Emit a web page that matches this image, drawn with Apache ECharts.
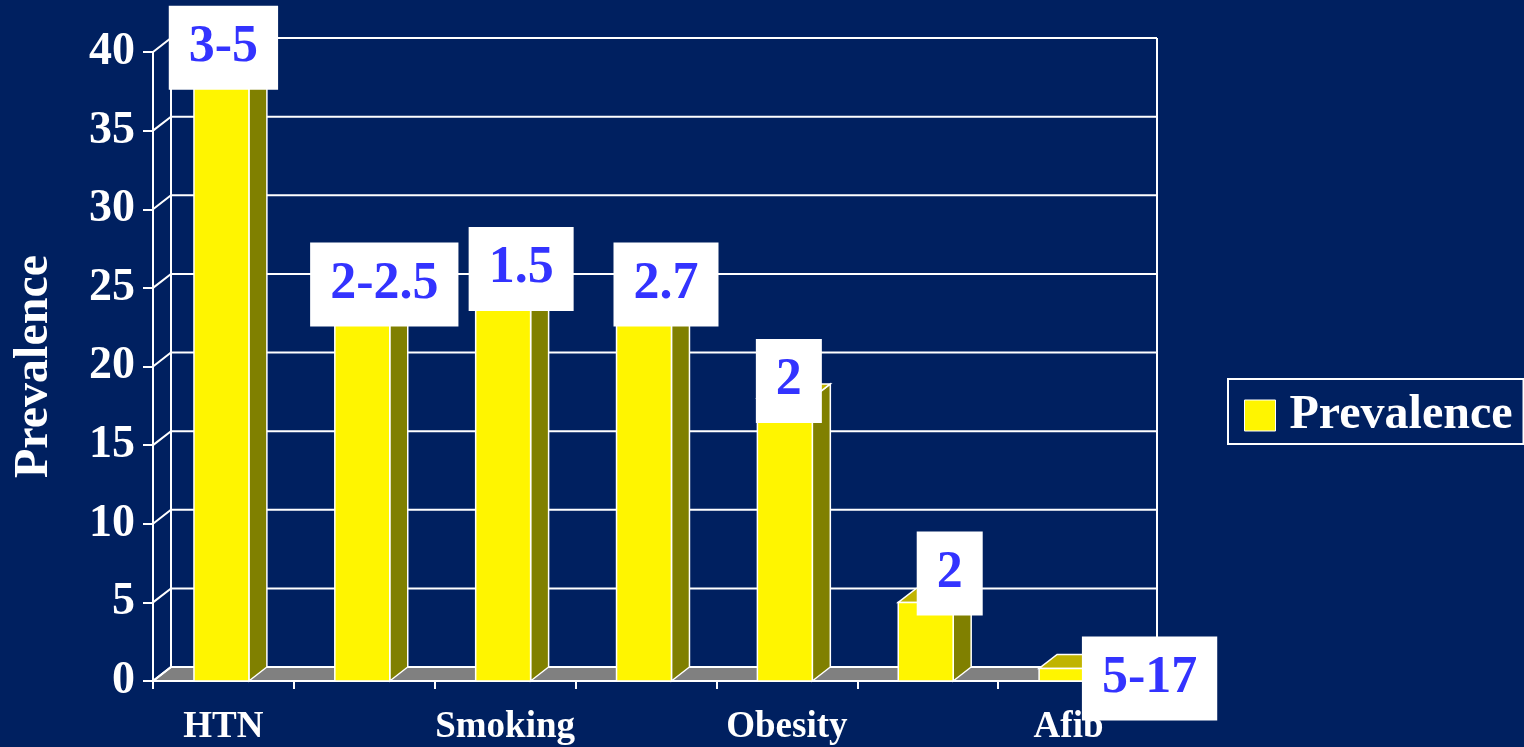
<!DOCTYPE html>
<html>
<head>
<meta charset="utf-8">
<script src="https://cdn.jsdelivr.net/npm/echarts@6/dist/echarts.min.js"></script>
<style>
  html, body { margin: 0; padding: 0; background: #002060; }
  #chart { width: 1524px; height: 747px; }
</style>
</head>
<body>
<div id="chart"></div>
<script>
// Stroke risk factors: prevalence (%) with relative risk shown in the call-out boxes
const categories = ['HTN', '', 'Smoking', '', 'Obesity', '', 'Afib'];
const prevalence = [39, 24, 25, 24, 18, 5, 0.8];
const relativeRisk = ['3-5', '2-2.5', '1.5', '2.7', '2', '2', '5-17'];
const yTicks = [0, 5, 10, 15, 20, 25, 30, 35, 40];

// Pseudo-3D depth of the bars, floor and back wall (px)
const DX = 18, DY = -14;
// Call-out box offsets from the top front edge of each bar (px)
const labelNudge = [[2, -20], [22, -19], [18, -19], [22, -19], [4, -17], [24, -29], [83, 10]];

const SERIF = '"Liberation Serif", "Times New Roman", serif';
const BG = '#002060';
const BAR_FRONT = '#fff500';
const BAR_SIDE = '#808000';
const BAR_TOP = '#c0b400';
const FLOOR = '#808080';
const LINE = '#ffffff';

const chart = echarts.init(document.getElementById('chart'));

function renderWall(params, api) {
  const v = api.value(1);
  const cs = params.coordSys;
  const left = cs.x, right = cs.x + cs.width;
  const y = api.coord([0, v])[1];
  const children = [];
  if (v === yTicks[0]) {
    const yTop = api.coord([0, yTicks[yTicks.length - 1]])[1];
    children.push({
      type: 'polygon',
      shape: { points: [[left, y], [right, y], [right + DX, y + DY], [left + DX, y + DY]] },
      style: { fill: FLOOR, stroke: LINE, lineWidth: 2 }
    });
    children.push({
      type: 'line',
      shape: { x1: left + DX, y1: y + DY, x2: left + DX, y2: yTop + DY },
      style: { stroke: LINE, lineWidth: 2 }
    });
    children.push({
      type: 'line',
      shape: { x1: right + DX, y1: y + DY, x2: right + DX, y2: yTop + DY },
      style: { stroke: LINE, lineWidth: 2 }
    });
  }
  children.push({
    type: 'polyline',
    shape: { points: [[left, y], [left + DX, y + DY], [right + DX, y + DY]] },
    style: { stroke: LINE, lineWidth: 2, fill: null }
  });
  return { type: 'group', children };
}

function renderBar(params, api) {
  const i = api.value(0), v = api.value(1);
  const base = api.coord([i, 0]);
  const top = api.coord([i, v]);
  const band = api.size([1, 0])[0];
  const w = band * 0.39;
  const cx = base[0] - 2;
  const x0 = cx - w / 2, x1 = cx + w / 2;
  const yb = base[1], yt = top[1];
  const edge = { stroke: LINE, lineWidth: 1.5 };
  return {
    type: 'group',
    children: [
      {
        type: 'polygon',
        shape: { points: [[x1, yb], [x1 + DX, yb + DY], [x1 + DX, yt + DY], [x1, yt]] },
        style: Object.assign({ fill: BAR_SIDE }, edge)
      },
      {
        type: 'polygon',
        shape: { points: [[x0, yt], [x0 + DX, yt + DY], [x1 + DX, yt + DY], [x1, yt]] },
        style: Object.assign({ fill: BAR_TOP }, edge)
      },
      {
        type: 'rect',
        shape: { x: x0, y: yt, width: w, height: yb - yt },
        style: Object.assign({ fill: api.visual('color') }, edge)
      }
    ]
  };
}

function renderCallout(params, api) {
  const i = api.value(0), v = api.value(1);
  const top = api.coord([i, v]);
  const n = labelNudge[i];
  return {
    type: 'text',
    x: top[0] - 2 + n[0],
    y: top[1] + n[1],
    style: {
      text: relativeRisk[i],
      align: 'center',
      verticalAlign: 'middle',
      font: 'bold 52px ' + SERIF,
      fill: '#3333ff',
      backgroundColor: '#ffffff',
      padding: [12, 20],
      lineHeight: 60
    }
  };
}

const barData = prevalence.map((v, i) => [i, v]);

chart.setOption({
  backgroundColor: BG,
  animation: false,
  grid: { left: 153, right: 385, top: 52, bottom: 66, containLabel: false, outerBoundsMode: 'none' },
  legend: {
    data: ['Prevalence'],
    left: 1228,
    top: 379,
    selectedMode: false,
    borderColor: LINE,
    borderWidth: 2,
    padding: [12, 11, 4, 16],
    itemWidth: 31,
    itemHeight: 31,
    icon: 'rect',
    itemStyle: { borderColor: LINE, borderWidth: 1 },
    textStyle: {
      color: LINE, fontSize: 48, fontWeight: 'bold', fontFamily: SERIF,
      padding: [0, 0, 0, 9], lineHeight: 49
    }
  },
  xAxis: {
    type: 'category',
    data: categories,
    boundaryGap: true,
    axisLine: { show: true, lineStyle: { color: LINE, width: 2 } },
    axisTick: { show: true, interval: 0, alignWithLabel: false, length: 8, lineStyle: { color: LINE, width: 2 } },
    axisLabel: {
      interval: 0, margin: 26, color: LINE, fontSize: 37, fontWeight: 'bold',
      fontFamily: SERIF, lineHeight: 40
    },
    splitLine: { show: false }
  },
  yAxis: {
    type: 'value',
    min: 0,
    max: 40,
    interval: 5,
    name: 'Prevalence',
    nameLocation: 'middle',
    nameRotate: 90,
    nameGap: 94,
    nameTextStyle: { color: LINE, fontSize: 48, fontWeight: 'bold', fontFamily: SERIF },
    axisLine: { show: true, lineStyle: { color: LINE, width: 2 } },
    axisTick: { show: true, inside: false, length: 10, lineStyle: { color: LINE, width: 2 } },
    axisLabel: { margin: 18, color: LINE, fontSize: 46, fontWeight: 'bold', fontFamily: SERIF },
    splitLine: { show: false }
  },
  series: [
    {
      name: 'wall',
      type: 'custom',
      renderItem: renderWall,
      data: yTicks.map(v => [0, v]),
      encode: { x: 0, y: 1 },
      silent: true,
      z: 1
    },
    {
      name: 'Prevalence',
      type: 'custom',
      renderItem: renderBar,
      data: barData,
      encode: { x: 0, y: 1 },
      itemStyle: { color: BAR_FRONT },
      z: 2
    },
    {
      name: 'risk',
      type: 'custom',
      renderItem: renderCallout,
      data: barData,
      encode: { x: 0, y: 1 },
      silent: true,
      z: 10
    }
  ]
});
</script>
</body>
</html>
